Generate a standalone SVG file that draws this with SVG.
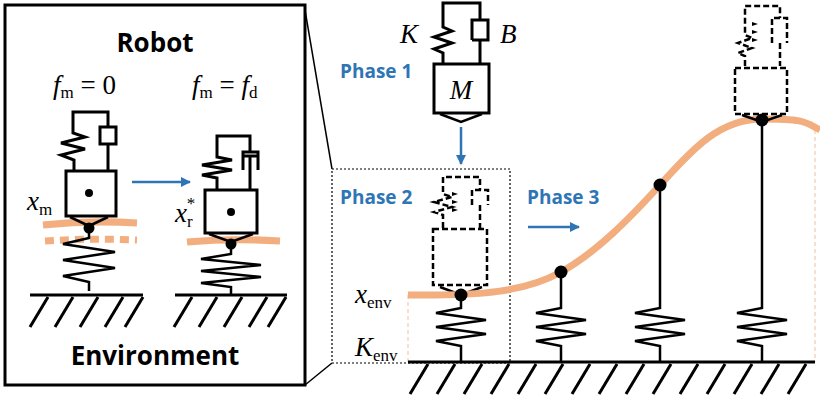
<svg xmlns="http://www.w3.org/2000/svg" width="820" height="400" viewBox="0 0 820 400">
<style>
.k{fill:none;stroke:#000;stroke-width:3;stroke-linejoin:miter}
.t{fill:none;stroke:#000;stroke-width:2.5}
.d{fill:none;stroke:#000;stroke-width:2.5;stroke-dasharray:6 3}
.o{fill:none;stroke:#F2AE7E;stroke-width:7}
.b{fill:#000}
.ph{font-family:"Open Sans","Liberation Sans",sans-serif;font-weight:bold;font-size:19px;fill:#2E75B6}
.tt{font-family:"Open Sans","Liberation Sans",sans-serif;font-weight:bold;font-size:26px;fill:#000}
.m{font-family:"Liberation Serif",serif;font-style:italic;font-size:27px;fill:#000}
.s{font-family:"Liberation Serif",serif;font-size:17px;fill:#000}
.r{font-family:"Liberation Serif",serif;font-size:27px;fill:#000}
.ar{stroke:#2E75B6;stroke-width:2.5;fill:none}
</style>
<defs>
<marker id="ah" markerWidth="10" markerHeight="10" refX="9" refY="5" orient="auto" markerUnits="userSpaceOnUse"><path d="M0,0 L10,5 L0,10 Z" fill="#2E75B6"/></marker>
<g id="hatch"><line x1="0" y1="0" x2="-18" y2="30" stroke="#000" stroke-width="3"/></g>
</defs>

<g id="panel">
<rect x="5" y="5" width="300" height="380" class="k" stroke-width="2.5"/>
<line x1="305" y1="10" x2="332" y2="169" stroke="#000" stroke-width="1.5"/>
<line x1="305" y1="385" x2="332" y2="363" stroke="#000" stroke-width="1.5"/>
<text x="155" y="52" class="tt" text-anchor="middle">Robot</text>
<text x="155" y="365" class="tt" text-anchor="middle">Environment</text>
<text x="53" y="94" class="m">f<tspan class="s" font-style="normal" dy="4">m</tspan><tspan class="r" font-style="normal" dy="-4"> = 0</tspan></text>
<text x="192" y="94" class="m">f<tspan class="s" font-style="normal" dy="4">m</tspan><tspan class="r" font-style="normal" dy="-4"> = </tspan>f<tspan class="s" font-style="normal" dy="4">d</tspan></text>
</g>

<g id="robot-left">
<path class="o" d="M43 225 Q90 220 137 223"/>
<path class="o" d="M45 241 Q90 238 137 240" stroke-dasharray="9 6"/>
<path class="k" d="M74 170 V160 l-13 -5 l24 -6 l-24 -6 l24 -6 l-12 -4 V112 H108 V127"/>
<rect x="100" y="127" width="16" height="17" class="k"/>
<path class="k" d="M108 144 V170"/>
<rect x="66" y="171" width="50" height="45" class="k"/>
<circle cx="89" cy="193" r="4" class="b"/>
<path class="t" d="M70 217 L89 226 L108 217"/>
<circle cx="89" cy="228" r="5.5" class="b"/>
<path class="t" d="M89 233 v5 l-26 6 l52 8 l-52 8 l52 8 l-52 8 l26 6 v9"/>
<line x1="30" y1="295" x2="143" y2="295" class="k" stroke-width="4"/>
<use href="#hatch" x="48" y="297"/><use href="#hatch" x="73" y="297"/><use href="#hatch" x="98" y="297"/><use href="#hatch" x="123" y="297"/><use href="#hatch" x="143" y="297"/>
<text x="27" y="210" class="m">x<tspan class="s" font-style="normal" dy="5">m</tspan></text>
</g>

<line x1="132" y1="182" x2="190" y2="182" class="ar" marker-end="url(#ah)"/>

<g id="robot-right">
<path class="o" d="M187 242 Q233 238 280 241"/>
<path class="k" d="M217 190 V178 l-15 -3 l30 -5 l-30 -5 l30 -5 l-15 -3 V136 H250 V152"/>
<path class="k" d="M243 170 V152 H258 V170 M243 156 H258"/>
<path class="k" d="M250 156 V190"/>
<rect x="205" y="190" width="52" height="43" class="k"/>
<circle cx="231" cy="212" r="4" class="b"/>
<path class="t" d="M209 234 L231 242 L253 234"/>
<circle cx="231" cy="244" r="5.5" class="b"/>
<path class="t" d="M231 249 v5 l-30 5 l60 6 l-60 6 l60 6 l-60 6 l30 4 v8"/>
<line x1="175" y1="295" x2="287" y2="295" class="k" stroke-width="4"/>
<use href="#hatch" x="192" y="297"/><use href="#hatch" x="217" y="297"/><use href="#hatch" x="242" y="297"/><use href="#hatch" x="267" y="297"/><use href="#hatch" x="286" y="297"/>
<text x="175" y="222" class="m">x<tspan class="s" font-style="normal" dy="5">r</tspan><tspan class="s" font-style="normal" dx="-6" dy="-18">*</tspan></text>
</g>

<g id="phase1">
<path class="k" d="M443 63 V53 l-9 -4 l18 -6 l-18 -6 l18 -6 l-9 -4 V3 H480 V20"/>
<path class="k" d="M472 40 V20 H488 V40 H472 M480 40 V63"/>
<rect x="434" y="64" width="55" height="49" class="k"/>
<text x="461" y="99" class="m" text-anchor="middle">M</text>
<path class="t" d="M440 114 L461 122 L482 114"/>
<text x="400" y="43" class="m">K</text>
<text x="500" y="43" class="m">B</text>
<text x="340" y="78" class="ph">Phase 1</text>
<line x1="461" y1="127" x2="461" y2="164" class="ar" marker-end="url(#ah)"/>
</g>

<g id="phase2">
<rect x="332" y="169" width="178" height="194" fill="none" stroke="#000" stroke-width="1.2" stroke-dasharray="2 2"/>
<text x="340" y="204" class="ph">Phase 2</text>
<path class="d" d="M443 228 V215 l-9 -3 l18 -5 l-18 -5 l18 -5 l-9 -3 V177 H480 V190 M472 205 V190 H488 V205 M480 205 V228"/>
<path d="M452 192 l6 2 l-6 2 Z M452 200 l6 2 l-6 2 Z M452 208 l6 2 l-6 2 Z" class="b"/>
<rect x="433" y="229" width="54" height="56" class="d"/>
<path class="t" d="M440 287 L461 295 L482 287"/>
<text x="355" y="303" class="m">x<tspan class="s" font-style="normal" dy="5">env</tspan></text>
<text x="355" y="356" class="m">K<tspan class="s" font-style="normal" dy="5">env</tspan></text>
<text x="527" y="204" class="ph">Phase 3</text>
<line x1="528" y1="227" x2="579" y2="227" class="ar" marker-end="url(#ah)"/>
</g>

<g id="env">
<line x1="408" y1="295" x2="408" y2="362" stroke="#F6D3C0" stroke-width="1.5" stroke-dasharray="4 3"/>
<line x1="815" y1="130" x2="815" y2="362" stroke="#F6D3C0" stroke-width="1.5" stroke-dasharray="4 3"/>
<path class="o" d="M408 295 C480 296 525 292 561 272 S630 218 660 185 S718 119 762 119 S805 122 820 130"/>
<circle cx="461" cy="295" r="6.5" class="b"/>
<circle cx="561" cy="272" r="6.5" class="b"/>
<circle cx="660" cy="185" r="6.5" class="b"/>
<circle cx="762" cy="120" r="6.5" class="b"/>
<path class="t" d="M461 300 v8 l-25 5 l50 7 l-50 7 l50 7 l-50 7 l25 5 v16"/>
<path class="t" d="M561 272 v36 l-25 5 l50 7 l-50 7 l50 7 l-50 7 l25 5 v16"/>
<path class="t" d="M660 185 v123 l-25 5 l50 7 l-50 7 l50 7 l-50 7 l25 5 v16"/>
<path class="t" d="M762 120 v188 l-25 5 l50 7 l-50 7 l50 7 l-50 7 l25 5 v16"/>
<line x1="408" y1="362" x2="815" y2="362" class="k" stroke-width="4"/>
<use href="#hatch" x="428" y="364"/><use href="#hatch" x="455" y="364"/><use href="#hatch" x="482" y="364"/><use href="#hatch" x="509" y="364"/><use href="#hatch" x="536" y="364"/><use href="#hatch" x="563" y="364"/><use href="#hatch" x="590" y="364"/><use href="#hatch" x="617" y="364"/><use href="#hatch" x="644" y="364"/><use href="#hatch" x="671" y="364"/><use href="#hatch" x="698" y="364"/><use href="#hatch" x="725" y="364"/><use href="#hatch" x="752" y="364"/><use href="#hatch" x="779" y="364"/><use href="#hatch" x="806" y="364"/>
</g>

<g id="robot-top">
<path class="d" d="M745 66 V56 l-7 -3 l14 -5 l-14 -5 l14 -5 l-7 -3 V6 H780 V18 M772 43 V18 H787 V43 M780 43 V66"/>
<path d="M752 22 l6 2 l-6 2 Z M752 30 l6 2 l-6 2 Z M752 38 l6 2 l-6 2 Z" class="b"/>
<rect x="735" y="68" width="52" height="46" class="d"/>
<path class="t" d="M742 115 L762 122 L782 115"/>
</g>
</svg>
